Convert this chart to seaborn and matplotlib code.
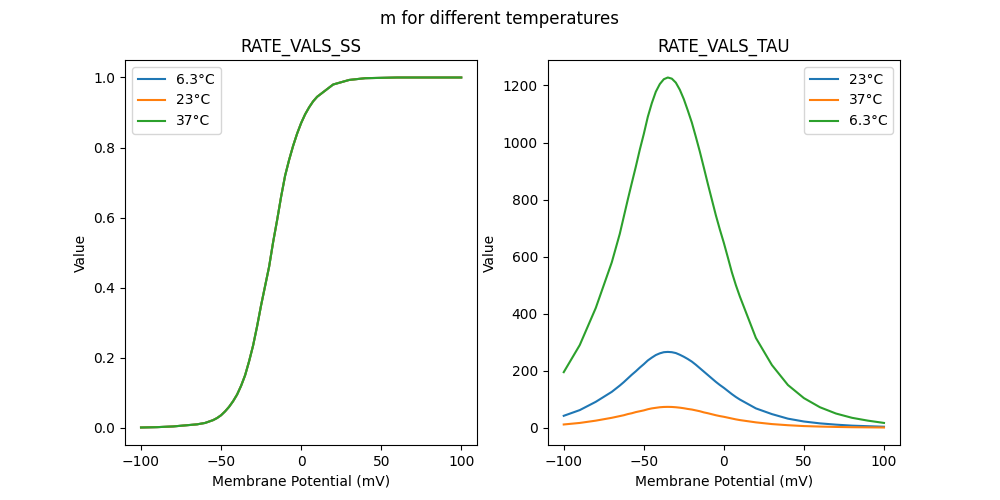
import matplotlib
matplotlib.use("Agg")
import matplotlib.pyplot as plt
import seaborn as sns
import pandas as pd

# membrane potential grid (mV), finer where the curves bend most
voltages = [-100, -90, -80,
            -70, -67.5, -65, -62.5, -60, -57.5, -55, -52.5, -50, -47.5, -45, -42.5,
            -40, -37.5, -35, -32.5, -30, -27.5, -25, -22.5, -20, -17.5, -15, -12.5,
            -10, -7.5, -5, -2.5, 0, 2.5, 5, 7.5, 10,
            20, 30, 40, 50, 60, 70, 80, 90, 100]

# steady state of m (identical at every temperature)
ss_vals = [0.001, 0.002, 0.004,
           0.008, 0.009, 0.010, 0.012, 0.014, 0.018, 0.022, 0.028, 0.036, 0.047, 0.060, 0.076,
           0.095, 0.120, 0.150, 0.190, 0.235, 0.290, 0.350, 0.405, 0.460, 0.530, 0.593, 0.660,
           0.720, 0.765, 0.805, 0.840, 0.870, 0.895, 0.915, 0.932, 0.945,
           0.980, 0.993, 0.998, 0.999, 1.0, 1.0, 1.0, 1.0, 1.0]

# time constant of m per temperature
tau_6_3 = [195, 290, 420,
           580, 630, 680, 740, 800, 858, 915, 975, 1030, 1090, 1138, 1178,
           1205, 1222, 1228, 1224, 1210, 1185, 1152, 1112, 1070, 1020, 968, 912,
           855, 800, 745, 695, 648, 597, 545, 500, 460,
           315, 220, 150, 104, 72, 50, 35, 25, 17]
tau_23 = [42, 62, 91,
          126, 137, 148, 160, 173, 186, 198, 211, 223, 236, 246, 255,
          261, 265, 266, 265, 262, 256, 249, 241, 232, 221, 209, 197,
          185, 173, 161, 150, 140, 129, 118, 108, 99,
          68, 48, 32, 22, 15.5, 11, 7.5, 5.5, 3.7]
tau_37 = [11.6, 17, 25,
          35, 38, 41, 44, 48, 51, 55, 58, 61, 65, 68, 70,
          72, 73, 73.3, 73, 72, 70.5, 68.5, 66, 64, 61, 58, 54,
          51, 47.5, 44, 41, 38.5, 35.5, 32.5, 29.5, 27,
          19, 13, 9, 6, 4.3, 3, 2, 1.5, 1]

ss_order = ["6.3°C", "23°C", "37°C"]
tau_order = ["23°C", "37°C", "6.3°C"]
colors = ["#1f77b4", "#ff7f0e", "#2ca02c"]

ss_df = pd.concat([pd.DataFrame({"v": voltages, "val": ss_vals, "temp": t}) for t in ss_order])
tau_map = {"23°C": tau_23, "37°C": tau_37, "6.3°C": tau_6_3}
tau_df = pd.concat([pd.DataFrame({"v": voltages, "val": tau_map[t], "temp": t}) for t in tau_order])

fig, axes = plt.subplots(1, 2, figsize=(10, 5), dpi=100)

sns.lineplot(data=ss_df, x="v", y="val", hue="temp", hue_order=ss_order,
             palette=colors, ax=axes[0])
sns.lineplot(data=tau_df, x="v", y="val", hue="temp", hue_order=tau_order,
             palette=colors, ax=axes[1])

titles = ["RATE_VALS_SS", "RATE_VALS_TAU"]
for ax, title, loc in zip(axes, titles, ["upper left", "upper right"]):
    ax.set_title(title)
    ax.set_xlabel("Membrane Potential (mV)")
    ax.set_ylabel("Value")
    ax.legend(loc=loc)

fig.suptitle("m for different temperatures")
plt.savefig("out.png", dpi=100)
